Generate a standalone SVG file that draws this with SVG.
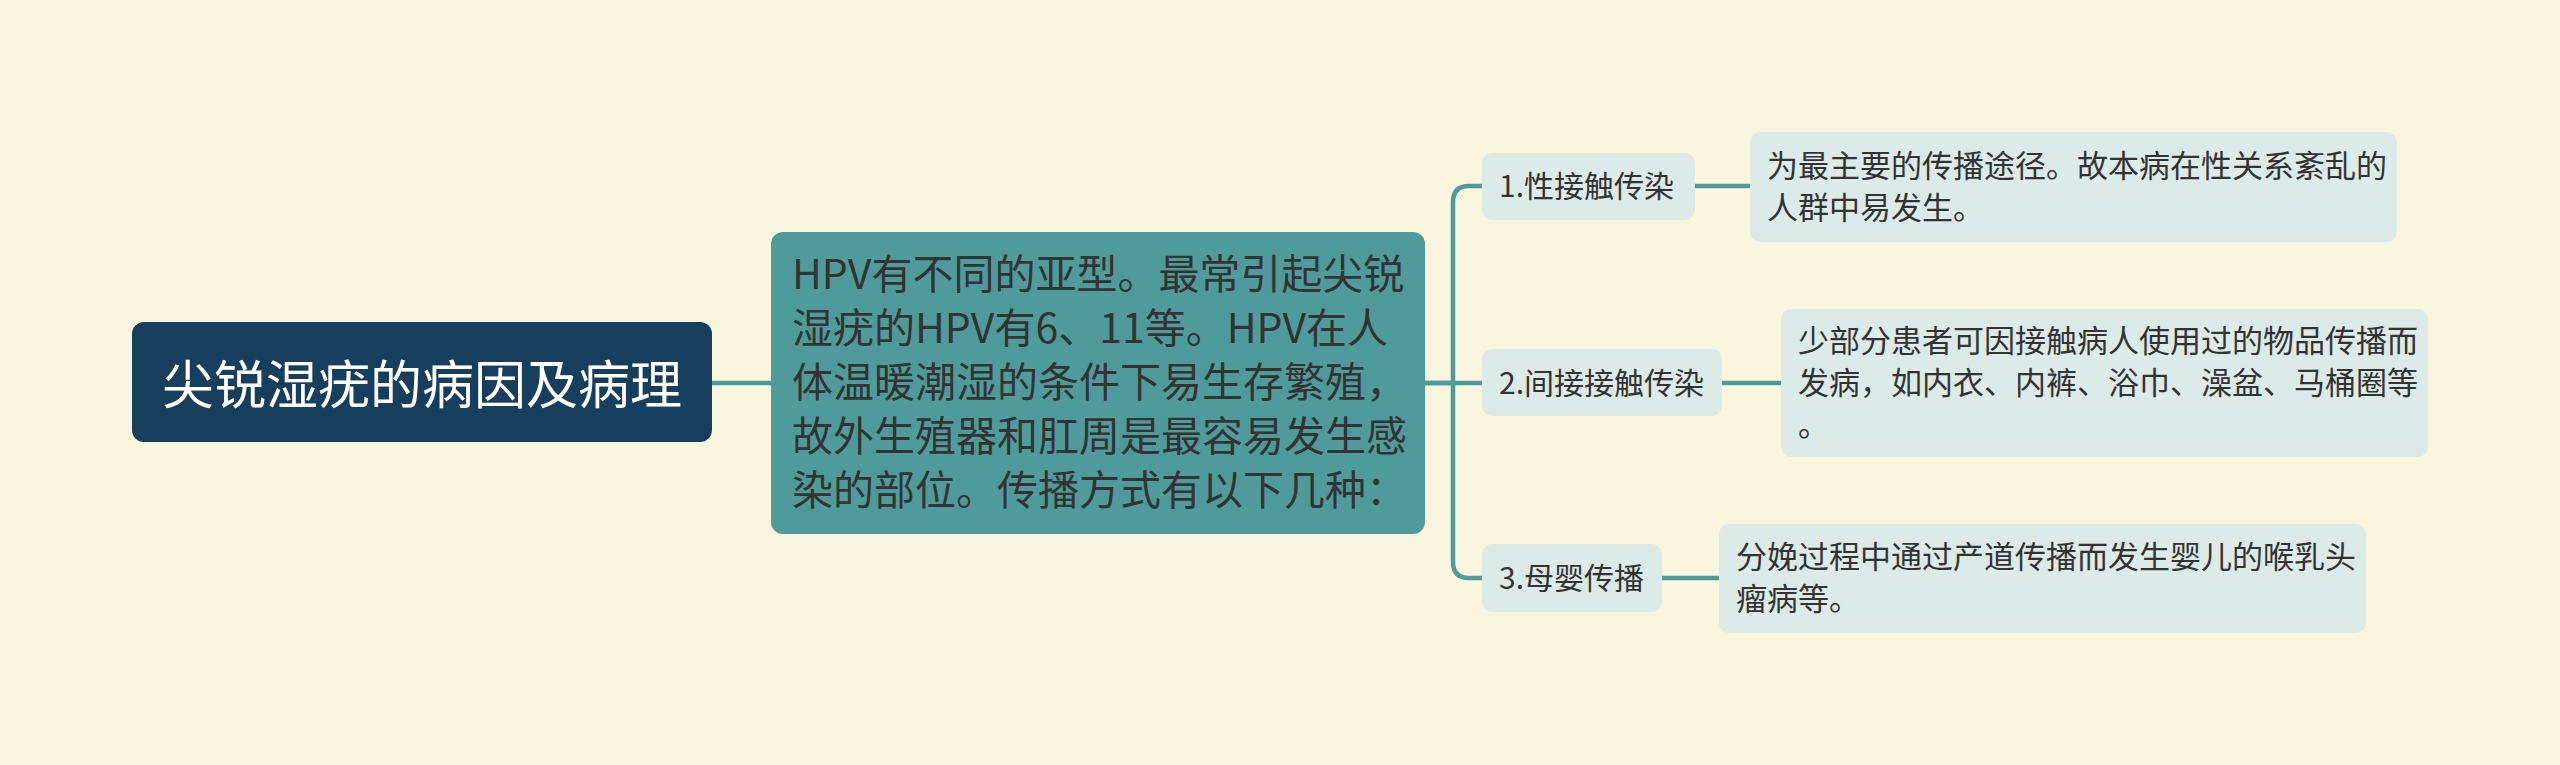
<svg xmlns="http://www.w3.org/2000/svg" width="2560" height="765" viewBox="0 0 2560 765">
<style>
text{font-family:"Noto Sans CJK SC","Liberation Sans",sans-serif;}
.root{fill:#173e5d;}
.mid{fill:#4f9b9b;}
.lt{fill:#dceae8;}
.dark{fill:#333333;}
.conn{fill:none;stroke:#4f9b9b;stroke-width:4.5;}
</style>
<rect width="2560" height="765" fill="#faf5df"/>
<g id="connectors">
<path class="conn" d="M712,383 H771"/>
<path class="conn" d="M1425,383 H1453 V202 Q1453,186 1469,186 H1482"/>
<path class="conn" d="M1425,383 H1482"/>
<path class="conn" d="M1453,383 V562 Q1453,578 1469,578 H1482"/>
<path class="conn" d="M1695,186 H1750"/>
<path class="conn" d="M1722,383 H1781"/>
<path class="conn" d="M1662,578 H1719"/>
</g>
<g id="root">
<rect class="root" x="132" y="322" width="580" height="120" rx="12"/>
<text x="422" y="404" font-size="52" fill="#ffffff" text-anchor="middle">尖锐湿疣的病因及病理</text>
</g>
<g id="mid">
<rect class="mid" x="771" y="232" width="654" height="302" rx="12"/>
<text class="dark" font-size="41">
<tspan x="792" y="289">HPV有不同的亚型。最常引起尖锐</tspan>
<tspan x="792" y="343">湿疣的HPV有6、11等。HPV在人</tspan>
<tspan x="792" y="397">体温暖潮湿的条件下易生存繁殖，</tspan>
<tspan x="792" y="451">故外生殖器和肛周是最容易发生感</tspan>
<tspan x="792" y="505">染的部位。传播方式有以下几种：</tspan>
</text>
</g>
<g id="b1">
<rect class="lt" x="1482" y="153" width="213" height="67" rx="10"/>
<text class="dark" x="1499" y="197" font-size="30">1.性接触传染</text>
</g>
<g id="b2">
<rect class="lt" x="1482" y="349" width="240" height="67" rx="10"/>
<text class="dark" x="1499" y="394" font-size="30">2.间接接触传染</text>
</g>
<g id="b3">
<rect class="lt" x="1482" y="544" width="180" height="68" rx="10"/>
<text class="dark" x="1499" y="589" font-size="30">3.母婴传播</text>
</g>
<g id="l1">
<rect class="lt" x="1750" y="132" width="647" height="110" rx="10"/>
<text class="dark" font-size="31">
<tspan x="1767" y="177">为最主要的传播途径。故本病在性关系紊乱的</tspan>
<tspan x="1767" y="219">人群中易发生。</tspan>
</text>
</g>
<g id="l2">
<rect class="lt" x="1781" y="309" width="647" height="148" rx="10"/>
<text class="dark" font-size="31">
<tspan x="1798" y="352">少部分患者可因接触病人使用过的物品传播而</tspan>
<tspan x="1798" y="394">发病，如内衣、内裤、浴巾、澡盆、马桶圈等</tspan>
<tspan x="1798" y="436">。</tspan>
</text>
</g>
<g id="l3">
<rect class="lt" x="1719" y="524" width="647" height="109" rx="10"/>
<text class="dark" font-size="31">
<tspan x="1736" y="568">分娩过程中通过产道传播而发生婴儿的喉乳头</tspan>
<tspan x="1736" y="610">瘤病等。</tspan>
</text>
</g>
</svg>
